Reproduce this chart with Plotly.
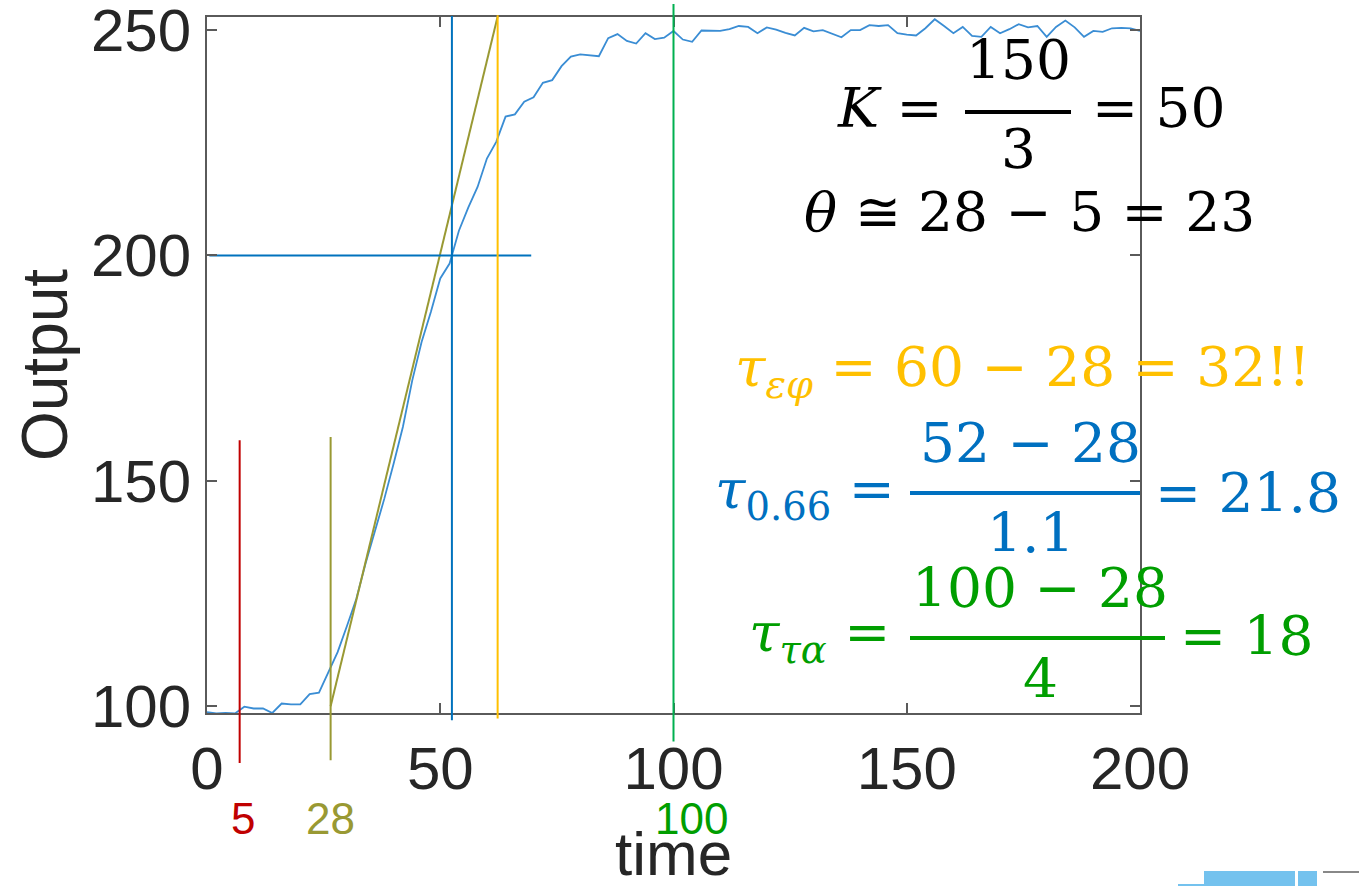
import plotly.graph_objects as go

# ---------------- data ----------------
time = list(range(0, 202, 2))
output = [98.7, 98.4, 98.5, 98.4, 99.9, 99.5, 99.5, 98.5, 100.6, 100.4,
          100.4, 102.7, 103.0, 107.5, 112.0, 117.8, 123.8, 131.7, 138.8, 146.0,
          153.8, 162.0, 172.3, 180.8, 187.5, 194.9, 198.2, 205.5, 210.6, 215.2,
          221.5, 225.2, 230.8, 231.3, 234.1, 235.1, 238.3, 238.9, 242.0, 244.1,
          244.6, 244.4, 244.2, 248.2, 249.1, 247.6, 247.0, 249.3, 248.0, 248.3,
          249.8, 247.9, 247.4, 249.9, 249.8, 249.8, 250.2, 250.9, 250.7, 249.3,
          250.6, 250.1, 249.4, 248.8, 250.5, 249.7, 250.0, 249.2, 248.4, 250.0,
          250.0, 251.1, 250.9, 251.1, 249.3, 249.0, 248.8, 250.4, 252.4, 250.9,
          249.3, 250.7, 248.7, 248.5, 250.7, 249.3, 250.2, 251.3, 250.6, 250.9,
          248.5, 250.7, 252.1, 250.6, 248.5, 249.8, 249.6, 250.4, 250.5, 250.4,
          249.8]

# tangent line (olive) and 2/3-level horizontal line (blue)
tangent_t = [26.5, 62.3]
tangent_y = [100.0, 253.0]
level_t = [0.5, 69.5]
level_y = [200.0, 200.0]

# vertical marker lines: time, lower end, upper end, colour
marker_t = [7.0, 26.5, 52.5, 62.3, 100.0]
marker_lo = [87.4, 88.0, 96.9, 97.3, 92.2]
marker_hi = [159.0, 159.7, 253.1, 253.3, 255.8]
marker_colors = ["#C00000", "#999933", "#0072BD", "#FFC000", "#00B050"]

# coloured labels under the axis
label_t = [7.0, 26.5, 100.0]
label_text = ["5", "28", "100"]
label_colors = ["#C00000", "#999933", "#009E00"]

x_ticks = [0, 50, 100, 150, 200]
y_ticks = [100, 150, 200, 250]
X_RANGE = [0, 200]
Y_RANGE = [98.5, 252.9]

# ---------------- layout geometry ----------------
W, H = 1359, 886
ML, MR, MT, MB = 207, 219, 17, 173
PW = W - ML - MR
PH = H - MT - MB


def px(x):
    return (x - ML) / PW


def py(y):
    return (H - MB - y) / PH


def yfrac(v):
    return (v - Y_RANGE[0]) / (Y_RANGE[1] - Y_RANGE[0])


fig = go.Figure()

fig.add_trace(go.Scatter(x=time, y=output, mode="lines",
                         line=dict(color="#3a8dd4", width=1.8),
                         showlegend=False, hoverinfo="skip"))
fig.add_trace(go.Scatter(x=tangent_t, y=tangent_y, mode="lines",
                         line=dict(color="#999933", width=2),
                         showlegend=False, hoverinfo="skip"))
fig.add_trace(go.Scatter(x=level_t, y=level_y, mode="lines",
                         line=dict(color="#0072BD", width=2),
                         showlegend=False, hoverinfo="skip"))

for t, lo, hi, c in zip(marker_t, marker_lo, marker_hi, marker_colors):
    fig.add_shape(type="line", xref="x", yref="paper", x0=t, x1=t,
                  y0=yfrac(lo), y1=yfrac(hi), line=dict(color=c, width=2))

label_shift = [3, 0, 18]
for t, s, c, sh in zip(label_t, label_text, label_colors, label_shift):
    fig.add_annotation(text=s, x=t, y=py(818), xref="x", yref="paper",
                       xshift=sh, showarrow=False, xanchor="center", yanchor="middle",
                       font=dict(family="Liberation Sans", size=44, color=c))

# axis titles
fig.add_annotation(text="Output", x=px(45), y=py(365), xref="paper", yref="paper",
                   textangle=-90, showarrow=False, xanchor="center", yanchor="middle",
                   font=dict(family="Liberation Sans", size=64, color="#262626"))
fig.add_annotation(text="time", x=px(673), y=py(853), xref="paper", yref="paper",
                   showarrow=False, xanchor="center", yanchor="middle",
                   font=dict(family="Liberation Sans", size=62, color="#262626"))

SERIF = "DejaVu Serif"
FS = 55


def txt(text, x, y, color, xanchor="center", size=FS):
    fig.add_annotation(text=text, x=px(x), y=py(y), xref="paper", yref="paper",
                       xanchor=xanchor, yanchor="middle", showarrow=False,
                       font=dict(family=SERIF, size=size, color=color))


def bar(x0, x1, y, color):
    fig.add_shape(type="line", xref="paper", yref="paper",
                  x0=px(x0), x1=px(x1), y0=py(y), y1=py(y),
                  line=dict(color=color, width=4))


# K = 150/3 = 50
txt("<i>K</i> =", 945, 108, "black", xanchor="right")
txt("150", 1018, 60, "black")
bar(965, 1071, 112, "black")
txt("3", 1018, 149, "black")
txt("= 50", 1090, 108, "black", xanchor="left")

# theta
txt("<i>θ</i> ≅ 28 − 5 = 23", 1029, 212, "black")

# tau eps-phi (yellow)
YEL = "#FFC000"
txt("<i>τ</i><sub><i>εφ</i></sub> = 60 − 28 = 32!!", 1022, 371, YEL)

# tau 0.66 (blue)
BLU = "#0070C0"
txt("<i>τ</i><sub>0.66</sub> =", 897, 493, BLU, xanchor="right")
txt("52 − 28", 1030, 443, BLU)
bar(910, 1140, 493, BLU)
txt("1.1", 1030, 533, BLU)
txt("= 21.8", 1153, 493, BLU, xanchor="left")

# tau tau-alpha (green)
GRN = "#009E00"
txt("<i>τ</i><sub><i>τα</i></sub> =", 892, 636, GRN, xanchor="right")
txt("100 − 28", 1040, 588, GRN)
bar(910, 1165, 638, GRN)
txt("4", 1040, 679, GRN)
txt("= 18", 1178, 636, GRN, xanchor="left")

# decorative slide fragments at bottom right
fig.add_shape(type="rect", xref="paper", yref="paper",
              x0=px(1204), x1=px(1295), y0=py(886), y1=py(871),
              line=dict(width=0), fillcolor="#74C2EE")
fig.add_shape(type="rect", xref="paper", yref="paper",
              x0=px(1298), x1=px(1317), y0=py(886), y1=py(871),
              line=dict(width=0), fillcolor="#74C2EE")
fig.add_shape(type="line", xref="paper", yref="paper",
              x0=px(1178), x1=px(1204), y0=py(885), y1=py(885),
              line=dict(color="#74C2EE", width=2))
fig.add_shape(type="line", xref="paper", yref="paper",
              x0=px(1323), x1=px(1359), y0=py(872), y1=py(872),
              line=dict(color="#888888", width=2))

axis_common = dict(showline=True, linecolor="#5a5a5a", linewidth=2, mirror="ticks",
                   ticks="inside", ticklen=10, tickwidth=2, tickcolor="#5a5a5a",
                   showgrid=False, zeroline=False, automargin=False,
                   ticklabeloverflow="allow",
                   tickfont=dict(family="Liberation Sans", size=60, color="#262626"))

fig.update_layout(
    width=W, height=H,
    margin=dict(l=ML, r=MR, t=MT, b=MB, pad=0, autoexpand=False),
    paper_bgcolor="white", plot_bgcolor="white",
    showlegend=False,
    xaxis=dict(range=X_RANGE, tickvals=x_ticks, ticklabelstandoff=2, **axis_common),
    yaxis=dict(range=Y_RANGE, tickvals=y_ticks, ticklabelstandoff=2, **axis_common),
)

fig.write_html("out.html",
               config={"displayModeBar": False},
               post_script="document.body.style.margin='0px';"
                           "document.body.style.overflow='hidden';")
